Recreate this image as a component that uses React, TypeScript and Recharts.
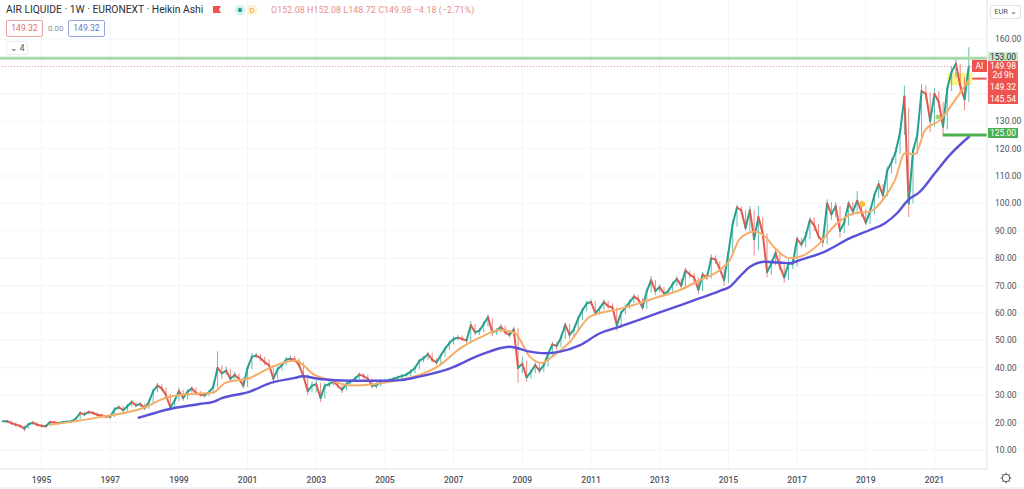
import { Bar, CartesianGrid, ComposedChart, Line, ReferenceArea, ReferenceDot, ReferenceLine, XAxis, YAxis } from "recharts"

// eight samples per year from 1994
const closes = [
  20.5, 19.8, 19.2, 18.8, 17.8, 19.4, 20, 19.2,
  18.8, 18.7, 20.2, 20, 19.8, 20.2, 20.3, 20.5,
  21.5, 23.5, 23, 23.9, 23.5, 22.8, 22.6, 22.2,
  22.1, 24.8, 25.6, 24.5, 26, 27.5, 26.3, 26.8,
  25.3, 27.5, 31.5, 33.5, 32.5, 30, 25.5, 28,
  31.5, 29, 31.2, 32.5, 30.8, 30.2, 30, 31,
  33, 40, 38, 39, 36, 37.4, 36, 33.5,
  40, 44, 44.5, 43.5, 42, 41, 36, 39.5,
  41, 43, 43.3, 43, 41, 37, 31.5, 33.5,
  34, 29, 33.5, 34, 35, 33.5, 32, 34,
  35, 36, 37.5, 37, 36, 33.5, 33.5, 35,
  35, 35.5, 36, 36.5, 37, 37.5, 38.6, 40,
  42.5, 43.5, 45, 43, 42, 44.5, 47, 49,
  50.5, 51, 50.5, 50, 55.5, 53, 53.5, 56,
  58.5, 53, 53.5, 55, 53, 52, 54, 40,
  41.5, 36.5, 38.5, 41, 39, 41, 45, 48.5,
  48, 51, 55.7, 52, 54, 58, 61, 63.5,
  64, 60, 61.7, 64, 62.5, 62, 55.5, 60,
  62, 64, 66, 65, 62, 68, 72, 68,
  69.5, 67, 68, 70.5, 72.5, 70, 75.5, 74,
  73, 68.5, 74, 73, 80, 79.5, 76, 72,
  82, 92.5, 98.5, 97.5, 91, 97.5, 87, 95,
  89, 75, 78, 82, 77, 73, 78, 78,
  87, 85, 88, 94, 92, 88, 86, 100,
  96, 99, 90, 93, 100, 97, 101, 97,
  93, 97, 103, 107, 103, 112, 115, 119,
  126, 139, 100, 119, 125, 141, 140, 130,
  140, 137, 128, 142, 148, 151, 143, 138,
  150,
]

const highs = [
  21, 20.8, 20, 19.4, 19, 19.8, 20.4, 20.2,
  19.6, 19.4, 20.6, 20.6, 20.4, 20.6, 20.8, 21,
  22, 24.2, 24, 24.4, 24.2, 23.8, 23.2, 22.8,
  22.6, 25.6, 26.4, 26, 26.8, 28.2, 27.6, 27.5,
  27, 28.5, 32.5, 34.5, 34, 32.8, 30.5, 29,
  32.8, 32, 32.3, 33.2, 32.8, 31.5, 30.8, 32,
  35, 46, 41, 40.5, 39.5, 38.5, 38, 36.5,
  41, 45.5, 45.5, 45, 44, 43, 41, 40.5,
  42, 44, 44.5, 44.3, 43.5, 42, 37.5, 35,
  35.5, 34.5, 34.5, 35.5, 36, 35.5, 34, 35,
  36, 37, 38.3, 38, 37.5, 36, 34.8, 36,
  36, 36.3, 36.8, 37.2, 37.8, 38.4, 39.5, 40.8,
  43.2, 44.3, 45.8, 45.5, 43.5, 45, 47.8, 50,
  51.5, 52, 51.8, 51, 57, 56, 54.5, 57,
  59.5, 58, 54.5, 56, 55.5, 53.5, 55, 54.5,
  44, 42.5, 39.5, 42, 41.5, 42, 46, 49.5,
  49.5, 52, 56.5, 56, 55, 59, 62, 64.5,
  65, 64.5, 62.5, 65, 64.5, 63.5, 62, 61,
  63, 65, 67, 66.5, 65.5, 69, 73.5, 72,
  70.5, 69.5, 69, 71.5, 73.5, 72.5, 76.5, 75.5,
  74.5, 73, 75, 74.5, 81.5, 81, 79, 76,
  83, 94, 99.5, 99, 97.5, 99, 97.5, 99,
  95, 89, 79.5, 83.5, 82, 77.5, 79.5, 80,
  88, 87.5, 89.5, 95, 95, 92.5, 88, 101.5,
  100.5, 100.5, 99, 94.5, 101, 100.5, 104.5, 101,
  98, 98.5, 104, 108.5, 107, 113.5, 116.5, 120.5,
  127.5, 143, 135, 120.5, 126.5, 143.5, 143, 140.5,
  142, 141, 137, 143, 150, 153, 151, 146,
  157,
]

const lows = [
  19.8, 19.2, 18.6, 18.2, 16.8, 17.8, 19.2, 18.6,
  18.2, 18.2, 18.6, 19.4, 19.2, 19.6, 19.8, 20,
  20.3, 21.3, 22.4, 23, 22.8, 22.2, 22, 21.6,
  21.4, 22, 24.8, 23.8, 24.3, 25.8, 25.6, 25.8,
  24.6, 25, 27.2, 31.2, 31.5, 29.2, 24.8, 25,
  27.8, 28, 28.5, 31, 30, 29.5, 29.2, 29.6,
  30.5, 32.8, 36, 37.5, 35, 35.8, 35, 32.5,
  33, 39.5, 43.5, 42.5, 41, 40, 34, 35.8,
  39, 40.8, 42.5, 42, 40, 36, 30, 31,
  31, 27.5, 28.8, 33, 33.5, 32.5, 30.8, 31.8,
  33.5, 34.8, 35.8, 36, 35.2, 32.5, 32.5, 33.2,
  34.3, 34.8, 35.2, 35.7, 36.2, 36.8, 37, 38,
  39.5, 42, 43, 42, 41, 41.5, 44, 46.5,
  48.5, 50, 49.8, 49, 49.5, 52, 52, 53,
  55, 51.5, 52, 53, 52, 51, 51.5, 34.5,
  38, 35, 36, 38, 38, 38.5, 40.5, 44.5,
  46.5, 47.5, 50.5, 50.5, 51, 53.5, 57.5, 60.5,
  62.8, 59, 59.5, 61, 61.5, 60.5, 53.5, 54.5,
  59.5, 61.5, 63.5, 64, 61, 61.5, 67.5, 66.5,
  67.5, 66, 66.5, 67.5, 69.8, 69, 69.5, 72.8,
  71, 67, 68, 72, 72.5, 78, 75, 70,
  71, 81, 91.5, 96.5, 90, 90, 81, 83,
  87, 73, 74, 77.5, 75.5, 71, 72, 76,
  77, 84, 84, 87, 90, 87, 84, 85,
  94, 95, 87.5, 89, 92, 95.5, 96, 95,
  92, 92.5, 96, 102, 101.5, 102.5, 111, 114.5,
  118, 125, 95, 100, 118, 124, 138, 126,
  128, 135, 125, 127, 141, 146, 141, 134,
  137,
]

const orangeYears = [1995.25, 1996.7, 1998, 1998.6, 1999, 2000, 2000.35, 2001.07, 2001.65, 2002.38, 2002.96, 2003.4, 2004, 2005.4, 2006, 2006.6, 2007.18, 2007.76, 2008.35, 2008.78, 2009.22, 2009.57, 2009.86, 2010.39, 2010.97, 2011.84, 2012.42, 2013, 2013.59, 2014.17, 2014.75, 2015.04, 2015.33, 2015.77, 2016.06, 2016.35, 2016.79, 2017.08, 2017.66, 2018.1, 2018.68, 2019.12, 2019.56, 2019.85, 2020.14, 2020.44, 2020.73, 2021.16, 2021.6, 2022]
const orangeValues = [19.2, 22, 25.5, 29, 30, 31, 34.5, 36.3, 40, 42.7, 37.3, 35.5, 33.5, 35.5, 37.4, 41, 47, 51, 53.8, 52.7, 44, 41.8, 44, 49.5, 58.7, 61.5, 63.6, 66, 68.4, 72, 75.7, 79.3, 87, 89.7, 88, 83.7, 80, 80.5, 85.5, 92, 96.4, 97, 102.4, 108.5, 118.3, 118, 126.8, 130.4, 137.7, 145]

const blueYears = [1997.8, 1998.3, 1998.6, 1999.6, 2000, 2000.25, 2001.07, 2001.65, 2002.38, 2002.59, 2003.1, 2004, 2005, 2005.44, 2006, 2006.9, 2007.76, 2008.63, 2009.22, 2009.66, 2010.1, 2010.68, 2011.26, 2011.84, 2012.42, 2013, 2013.59, 2014.17, 2014.75, 2015.04, 2015.33, 2015.62, 2016.06, 2016.79, 2017.08, 2017.81, 2018.54, 2019.12, 2019.56, 2019.91, 2020.23, 2020.58, 2021.01, 2021.45, 2022.03]
const blueValues = [21.7, 23.5, 24.6, 26.8, 27.6, 28.9, 31.3, 34.4, 36.3, 36.9, 35.9, 35.3, 35.3, 35.5, 36.8, 39.8, 44.6, 47.7, 45.9, 45.3, 45.9, 48.3, 52.6, 55, 57.6, 60.2, 62.8, 65.4, 68.1, 69.6, 73.3, 76.8, 78.7, 78.2, 79.3, 82.4, 87.3, 90.3, 92.8, 96.4, 101.2, 104.3, 111, 117.7, 124.6]

const yearTicks = [1995, 1997, 1999, 2001, 2003, 2005, 2007, 2009, 2011, 2013, 2015, 2017, 2019, 2021]
const priceTicks = [10, 20, 30, 40, 50, 60, 70, 80, 90, 100, 110, 120, 130, 160]
const gridPrices = [10, 20, 30, 40, 50, 60, 70, 80, 90, 100, 110, 120, 130, 140, 150, 160]

const UP = "#26a18f"
const DOWN = "#e05a50"
const FONT = "Roboto, sans-serif"
const SAMPLE_PX = 4.29 // one eighth of a year on this axis

// one table on the year axis: candle rows plus the rows of the two averages
const rows: any[] = [
  ...closes.map((close, i) => ({
    t: 1994 + i / 8,
    open: i === 0 ? close : closes[i - 1],
    close,
    high: highs[i],
    low: lows[i],
  })),
  ...orangeYears.map((t, i) => ({ t, orange: orangeValues[i] })),
  ...blueYears.map((t, i) => ({ t, blue: blueValues[i] })),
].sort((a, b) => a.t - b.t)

// the candles are far thinner than a pixel in the original, so each sample is
// drawn as its wick plus a short stroke from the previous close to this close
function Candle(props: any) {
  const { x, y, width, height, payload } = props
  if (payload.high == null) return null
  const center = x + width / 2
  const top = Math.min(y, y + height)
  const h = Math.abs(height)
  const perUnit = h / Math.max(payload.high - payload.low, 0.01)
  const color = payload.close >= payload.open ? UP : DOWN
  return (
    <g>
      <rect x={center - 0.5} y={top} width={1} height={h} fill={color} fillOpacity={0.7} />
      <line
        x1={center - SAMPLE_PX}
        y1={top + (payload.high - payload.open) * perUnit}
        x2={center}
        y2={top + (payload.high - payload.close) * perUnit}
        stroke={color}
        strokeWidth={2}
        strokeLinecap="round"
      />
    </g>
  )
}

const tagStyle = (left: number, top: number, width: number, height: number, background: string, color: string) => ({
  position: "absolute" as const,
  left,
  top,
  width,
  height,
  lineHeight: `${height}px`,
  background,
  color,
  fontSize: 8.5,
  textAlign: "center" as const,
})

function Overlay() {
  return (
    <div style={{ position: "absolute", left: 0, top: 0, width: 1024, height: 489, fontFamily: FONT, pointerEvents: "none" }}>
      <div style={{ position: "absolute", left: 6, top: 3, fontSize: 10.3, lineHeight: "14px", color: "#2a2e39", whiteSpace: "nowrap" }}>
        AIR LIQUIDE · 1W · EURONEXT · Heikin Ashi
      </div>
      <svg style={{ position: "absolute", left: 212, top: 5 }} width={50} height={12}>
        <path d="M1 1 H9 L7 4.5 L9 8 H1 Z" fill="#ef5350" />
        <circle cx={28} cy={5} r={5.5} fill="#d6f3ef" />
        <circle cx={28} cy={5} r={2.2} fill="#26a18f" />
        <circle cx={40} cy={5} r={5.5} fill="#fdf1d6" />
        <text x={40} y={8} textAnchor="middle" fontSize={7.5} fill="#f0a020">D</text>
      </svg>
      <div style={{ position: "absolute", left: 271, top: 3, fontSize: 8.8, lineHeight: "14px", color: "#e58f8a", whiteSpace: "nowrap", letterSpacing: 0.1 }}>
        O152.08 H152.08 L148.72 C149.98 −4.18 (−2.71%)
      </div>
      <div style={{ position: "absolute", left: 6, top: 20, width: 35, height: 15, lineHeight: "15px", border: "1px solid #e9a5a1", borderRadius: 2, color: "#d9706a", fontSize: 8.6, textAlign: "center" }}>149.32</div>
      <div style={{ position: "absolute", left: 48, top: 21, fontSize: 8, lineHeight: "15px", color: "#8a8d97" }}>0.00</div>
      <div style={{ position: "absolute", left: 68, top: 20, width: 35, height: 15, lineHeight: "15px", border: "1px solid #8fa8dc", borderRadius: 2, color: "#5b7cc4", fontSize: 8.6, textAlign: "center" }}>149.32</div>
      <div style={{ position: "absolute", left: 6, top: 41, width: 20, height: 12, lineHeight: "12px", border: "1px solid #eceef3", borderRadius: 2, color: "#50535e", fontSize: 8.6, textAlign: "center" }}>⌄ 4</div>

      <div style={{ position: "absolute", left: 990, top: 5, width: 29, height: 12, lineHeight: "12px", border: "1px solid #e0e3eb", borderRadius: 2, color: "#50535e", fontSize: 7.5, textAlign: "center" }}>EUR ⌄</div>

      <div style={tagStyle(988, 52, 30, 10, "#c8e6c9", "#2a2e39")}>153.00</div>
      <div style={tagStyle(972, 60, 15, 12, "#ef5350", "#ffffff")}>AI</div>
      <div style={tagStyle(988, 61, 30, 10, "#ef5350", "#ffffff")}>149.98</div>
      <div style={tagStyle(988, 71, 30, 9, "#ef5350", "#ffffff")}>2d 9h</div>
      <div style={tagStyle(988, 80, 30, 14, "#ef5350", "#ffffff")}>149.32</div>
      <div style={tagStyle(988, 94, 30, 10, "#ef5350", "#ffffff")}>145.54</div>
      <div style={tagStyle(988, 128, 30, 10, "#4caf50", "#ffffff")}>125.00</div>

      <svg style={{ position: "absolute", left: 1000, top: 472 }} width={12} height={12}>
        <circle cx={6} cy={6} r={3.8} fill="none" stroke="#50535e" strokeWidth={1} />
        <path d="M6 0.6 V2.2 M6 9.8 V11.4 M0.6 6 H2.2 M9.8 6 H11.4 M2.2 2.2 L3.2 3.2 M8.8 8.8 L9.8 9.8 M2.2 9.8 L3.2 8.8 M8.8 3.2 L9.8 2.2" stroke="#50535e" strokeWidth={1} />
      </svg>
      <div style={{ position: "absolute", left: 0, top: 487, width: 1024, height: 2, background: "#f0f3fa" }} />
    </div>
  )
}

export default function App() {
  return (
    <div style={{ position: "absolute", left: 0, top: 0, width: 1024, height: 489, background: "#ffffff" }}>
      <ComposedChart width={1024} height={489} data={rows} margin={{ top: 0, right: 0, bottom: 0, left: 0 }}>
        <CartesianGrid stroke="#f3f5fa" verticalValues={yearTicks} horizontalValues={gridPrices} />
        <XAxis
          dataKey="t"
          type="number"
          domain={[1993.79, 2022.53]}
          ticks={yearTicks}
          height={20}
          tickLine={false}
          axisLine={{ stroke: "#e0e3eb" }}
          tick={{ fontSize: 8.6, fill: "#50535e", fontFamily: FONT, fontWeight: 500 }}
          tickFormatter={(v: number) => String(v)}
        />
        <YAxis
          orientation="right"
          type="number"
          domain={[3.07, 174.23]}
          ticks={priceTicks}
          width={37}
          tickLine={false}
          axisLine={{ stroke: "#e0e3eb" }}
          tick={{ fontSize: 8.6, fill: "#50535e", fontFamily: FONT }}
          tickFormatter={(v: number) => v.toFixed(2)}
        />
        <ReferenceArea x1={2021.37} x2={2022.1} y1={143.2} y2={147.6} fill="#ffeb3b" fillOpacity={0.6} stroke="none" />
        <ReferenceLine y={153} stroke="#a9d8ab" strokeWidth={3} />
        <ReferenceLine y={149.98} stroke="#ef9a9a" strokeDasharray="1 2" />
        <Bar dataKey={(d: any) => (d.high == null ? null : [d.low, d.high])} barSize={4} shape={Candle} isAnimationActive={false} />
        <Line dataKey="orange" type="monotone" connectNulls stroke="#f5ad68" strokeWidth={2} dot={false} isAnimationActive={false} />
        <Line dataKey="blue" type="monotone" connectNulls stroke="#5b50d8" strokeWidth={2.4} dot={false} isAnimationActive={false} />
        <ReferenceLine segment={[{ x: 2021.24, y: 125 }, { x: 2022.53, y: 125 }]} stroke="#4caf50" strokeWidth={3} />
        <ReferenceLine segment={[{ x: 2022.1, y: 145.54 }, { x: 2022.53, y: 145.54 }]} stroke="#ef5350" strokeWidth={2} />
        <ReferenceDot x={2021.1} y={131.5} r={2.5} fill="#a5d66a" stroke="none" />
        <ReferenceDot x={2018.9} y={99.8} r={3} fill="#f5c542" stroke="none" />
      </ComposedChart>
      <Overlay />
    </div>
  )
}
